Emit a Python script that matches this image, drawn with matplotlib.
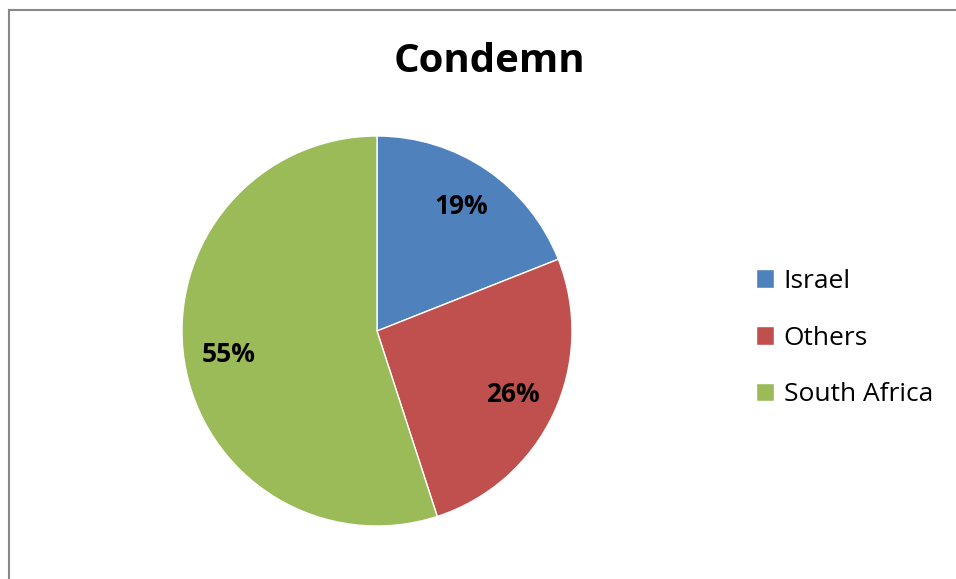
import matplotlib
matplotlib.use('Agg')
import matplotlib.pyplot as plt
from matplotlib.patches import Rectangle

plt.rcParams['font.family'] = ['Open Sans', 'DejaVu Sans']

# Dados do gráfico
categorias = ['Israel', 'Others', 'South Africa']
valores = [19, 26, 55]
cores = ['#4F81BD', '#C0504D', '#9BBB59']
titulo = 'Condemn'

fig = plt.figure(figsize=(9.56, 5.79), dpi=100)

# Borda do gráfico (sai pela direita e por baixo)
fig.patches.append(Rectangle((9 / 956, -0.1), 1.2, 1 - 10 / 579 + 0.1,
                             transform=fig.transFigure, fill=False,
                             edgecolor='#888888', linewidth=1.5))

ax = fig.add_axes([(377 - 195) / 956, (579 - 331 - 195) / 579, 390 / 956, 390 / 579])
wedges, texts, autotexts = ax.pie(valores, colors=cores, startangle=90, counterclock=False,
                                  autopct='%1.0f%%', pctdistance=0.77,
                                  wedgeprops=dict(edgecolor='white', linewidth=1.0),
                                  textprops=dict(fontsize=19, fontweight='bold', color='black'))
ax.set_xlim(-1, 1)
ax.set_ylim(-1, 1)
ax.set_aspect('equal')

fig.text(489 / 956, 1 - 61 / 579, titulo, ha='center', va='center',
         fontsize=29, fontweight='bold')

fig.legend(wedges, categorias, loc='center left', bbox_to_anchor=(756 / 956, 1 - 338 / 579),
           frameon=False, fontsize=19, handlelength=0.7, handleheight=0.7,
           handletextpad=0.35, labelspacing=1.2, borderaxespad=0, borderpad=0)

plt.savefig('out.png', dpi=100)
